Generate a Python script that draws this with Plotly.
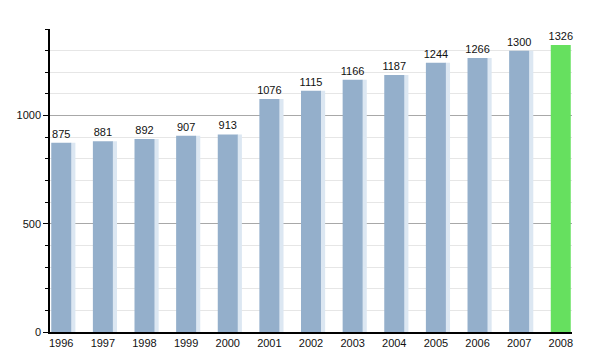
import plotly.graph_objects as go

years = ["1996", "1997", "1998", "1999", "2000", "2001", "2002",
         "2003", "2004", "2005", "2006", "2007", "2008"]
population = [875, 881, 892, 907, 913, 1076, 1115, 1166, 1187, 1244, 1266, 1300, 1326]

bar_colors = ["#94AFCB"] * (len(years) - 1) + ["#66E05F"]
shade_colors = ["#dce7f2"] * (len(years) - 1) + ["rgba(0,0,0,0)"]

BAR_W = 0.48
SHADE_W = 0.12

fig = go.Figure()

# soft light fade on the right side of each bar
fig.add_trace(
    go.Bar(
        x=years,
        y=population,
        marker=dict(color=shade_colors, line=dict(width=0)),
        width=SHADE_W,
        offset=BAR_W / 2 - 0.02,
        hoverinfo="skip",
    )
)

fig.add_trace(
    go.Bar(
        x=years,
        y=population,
        marker=dict(color=bar_colors, line=dict(width=0)),
        width=BAR_W,
        offset=-BAR_W / 2,
        text=[str(v) for v in population],
        textposition="outside",
        constraintext="none",
        textfont=dict(family="Liberation Sans, Arial", size=11, color="#111"),
        cliponaxis=False,
    )
)

fig.update_layout(
    width=600,
    height=350,
    barmode="overlay",
    margin=dict(l=50, r=28, t=29, b=18, autoexpand=False),
    paper_bgcolor="white",
    plot_bgcolor="white",
    showlegend=False,
    font=dict(family="Liberation Sans, Arial", size=11, color="#111"),
    xaxis=dict(
        type="category",
        range=[-0.27, 12.27],
        automargin=False,
        showline=True,
        linecolor="black",
        linewidth=1.5,
        ticks="",
        showgrid=False,
        tickfont=dict(size=11),
    ),
    yaxis=dict(
        range=[0, 1400],
        tickvals=[0, 500, 1000],
        automargin=False,
        showline=True,
        linecolor="black",
        linewidth=1.5,
        ticks="outside",
        ticklen=5,
        tickcolor="black",
        showgrid=True,
        gridcolor="#a8a8a8",
        gridwidth=1,
        zeroline=False,
        tickfont=dict(size=11),
        minor=dict(
            dtick=100,
            ticks="outside",
            ticklen=3,
            tickcolor="black",
            showgrid=True,
            gridcolor="#e6e6e6",
            gridwidth=1,
        ),
    ),
)

fig.write_html("out.html")
